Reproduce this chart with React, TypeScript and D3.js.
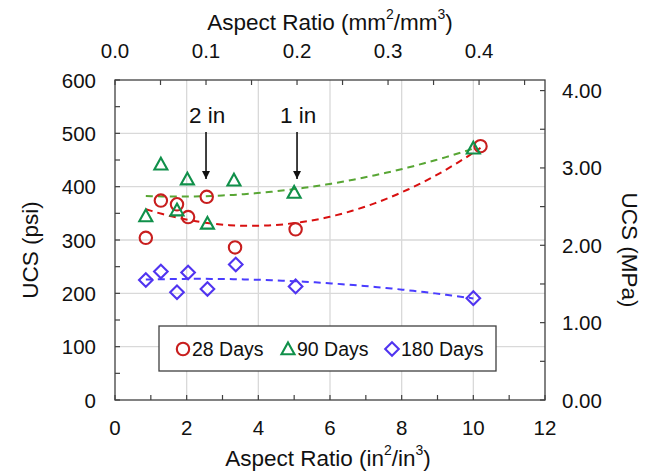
import React from "react";
import * as d3 from "d3";

const days28X = [0.86, 1.28, 1.73, 2.04, 2.56, 3.35, 5.04, 10.2];
const days28Y = [304, 374, 367, 343, 381, 286, 320, 476];
const days90X = [0.86, 1.28, 1.73, 2.02, 2.58, 3.32, 5.0, 10.0];
const days90Y = [345, 442, 356, 414, 331, 412, 389, 472];
const days180X = [0.86, 1.28, 1.73, 2.04, 2.58, 3.37, 5.04, 10.0];
const days180Y = [225, 241, 202, 239, 208, 254, 213, 191];

const xTicksBottom = [0, 2, 4, 6, 8, 10, 12];
const yTicksLeft = [0, 100, 200, 300, 400, 500, 600];
const yTicksRight = [0, 1, 2, 3, 4];
const xTicksTop = [0, 0.1, 0.2, 0.3, 0.4];
const annotations = [
  { label: "2 in", x: 2.54 },
  { label: "1 in", x: 5.08 },
];
const legendLabels = ["28 Days", "90 Days", "180 Days"];

const W = 645, H = 473;
const L = 115, R = 545, T = 80, B = 400;
const FONT = "'Liberation Sans', Arial, sans-serif";
const PSI_PER_MPA = 145.038;
const MM_PER_IN = 25.4;
const TICK_FS = 20.5;
const TITLE_FS = 22.5;

function quadFit(xs: number[], ys: number[]) {
  let s0 = xs.length, s1 = 0, s2 = 0, s3 = 0, s4 = 0, t0 = 0, t1 = 0, t2 = 0;
  xs.forEach((x, i) => {
    const y = ys[i];
    s1 += x; s2 += x * x; s3 += x ** 3; s4 += x ** 4;
    t0 += y; t1 += x * y; t2 += x * x * y;
  });
  const M = [
    [s0, s1, s2, t0],
    [s1, s2, s3, t1],
    [s2, s3, s4, t2],
  ];
  for (let i = 0; i < 3; i++) {
    for (let j = i + 1; j < 3; j++) {
      const f = M[j][i] / M[i][i];
      for (let k = i; k < 4; k++) M[j][k] -= f * M[i][k];
    }
  }
  const c = M[2][3] / M[2][2];
  const b = (M[1][3] - M[1][2] * c) / M[1][1];
  const a = (M[0][3] - M[0][1] * b - M[0][2] * c) / M[0][0];
  return (x: number) => a + b * x + c * x * x;
}

export default function App() {
  const x = d3.scaleLinear().domain([0, 12]).range([L, R]);
  const y = d3.scaleLinear().domain([0, 600]).range([B, T]);
  const yR = d3.scaleLinear().domain([0, 600 / PSI_PER_MPA]).range([B, T]);
  const xTop = d3.scaleLinear().domain([0, 12 / MM_PER_IN]).range([L, R]);

  const series = [
    { xs: days28X, ys: days28Y, color: "#C81E1E", line: "#D81010", shape: "circle" },
    { xs: days90X, ys: days90Y, color: "#10904A", line: "#58A634", shape: "triangle" },
    { xs: days180X, ys: days180Y, color: "#5034F0", line: "#4A3CFF", shape: "diamond" },
  ];

  const marker = (shape: string, cx: number, cy: number, color: string, key: any) => {
    if (shape === "circle")
      return <circle key={key} cx={cx} cy={cy} r={6.2} fill="none" stroke={color} strokeWidth={2.1} />;
    if (shape === "triangle") {
      const s = 6.5;
      return (
        <path key={key}
          d={`M${cx},${cy - s} L${cx + s},${cy + s * 0.8} L${cx - s},${cy + s * 0.8} Z`}
          fill="none" stroke={color} strokeWidth={2.1} strokeLinejoin="miter" />
      );
    }
    const s = 6.8;
    return (
      <path key={key}
        d={`M${cx},${cy - s} L${cx + s},${cy} L${cx},${cy + s} L${cx - s},${cy} Z`}
        fill="none" stroke={color} strokeWidth={2.1} />
    );
  };

  const lineGen = d3.line<[number, number]>().x(d => x(d[0])).y(d => y(d[1]));

  const minorX = d3.range(0, 13, 1);
  const minorY = d3.range(0, 601, 50);
  const minorYR = d3.range(0, 4.01, 0.5);
  const minorXTop = d3.range(0, 0.46, 0.05).filter(v => xTop(v) <= R + 0.5);

  return (
    <svg width={W} height={H} style={{ position: "fixed", left: 0, top: 0, background: "#fff" }} fontFamily={FONT}>
      <rect width={W} height={H} fill="#fff" />
      {xTicksBottom.slice(1, -1).map(v => (
        <line key={"gx" + v} x1={x(v)} x2={x(v)} y1={T} y2={B} stroke="#D9D9D9" strokeWidth={1.3} />
      ))}
      {yTicksLeft.slice(1, -1).map(v => (
        <line key={"gy" + v} x1={L} x2={R} y1={y(v)} y2={y(v)} stroke="#D9D9D9" strokeWidth={1.3} />
      ))}

      {series.map((s, i) => {
        const f = quadFit(s.xs, s.ys);
        const x0 = d3.min(s.xs)!, x1 = d3.max(s.xs)!;
        const pts: [number, number][] = d3.range(0, 61).map(k => {
          const xv = x0 + ((x1 - x0) * k) / 60;
          return [xv, f(xv)];
        });
        return <path key={"t" + i} d={lineGen(pts)!} fill="none" stroke={s.line} strokeWidth={2} strokeDasharray="7,5" />;
      })}

      <rect x={L} y={T} width={R - L} height={B - T} fill="none" stroke="#404040" strokeWidth={1.3} />

      {minorX.map(v => (
        <line key={"bt" + v} x1={x(v)} x2={x(v)} y1={B} y2={B - 5} stroke="#404040" strokeWidth={1.2} />
      ))}
      {minorXTop.map((v, i) => (
        <line key={"tt" + i} x1={xTop(v)} x2={xTop(v)} y1={T} y2={T + 5} stroke="#404040" strokeWidth={1.2} />
      ))}
      {minorY.map(v => (
        <line key={"lt" + v} x1={L} x2={L + 5} y1={y(v)} y2={y(v)} stroke="#404040" strokeWidth={1.2} />
      ))}
      {minorYR.map((v, i) => (
        <line key={"rt" + i} x1={R} x2={R - 5} y1={yR(v)} y2={yR(v)} stroke="#404040" strokeWidth={1.2} />
      ))}

      {xTicksBottom.map(v => (
        <text key={"bl" + v} x={x(v)} y={427} fontSize={TICK_FS} textAnchor="middle" dominantBaseline="central" fill="#111">{v}</text>
      ))}
      {xTicksTop.map(v => (
        <text key={"tl" + v} x={xTop(v)} y={50} fontSize={TICK_FS} textAnchor="middle" dominantBaseline="central" fill="#111">{v.toFixed(1)}</text>
      ))}
      {yTicksLeft.map(v => (
        <text key={"ll" + v} x={96} y={y(v)} fontSize={TICK_FS} textAnchor="end" dominantBaseline="central" fill="#111">{v}</text>
      ))}
      {yTicksRight.map(v => (
        <text key={"rl" + v} x={562} y={yR(v)} fontSize={TICK_FS} textAnchor="start" dominantBaseline="central" fill="#111">{v.toFixed(2)}</text>
      ))}

      <text x={328} y={458} fontSize={TITLE_FS} textAnchor="middle" dominantBaseline="central" fill="#111">
        Aspect Ratio (in<tspan fontSize={14} dy={-8}>2</tspan><tspan dy={8}>/in</tspan><tspan fontSize={14} dy={-8}>3</tspan><tspan dy={8}>)</tspan>
      </text>
      <text x={330} y={22} fontSize={TITLE_FS} textAnchor="middle" dominantBaseline="central" fill="#111">
        Aspect Ratio (mm<tspan fontSize={14} dy={-8}>2</tspan><tspan dy={8}>/mm</tspan><tspan fontSize={14} dy={-8}>3</tspan><tspan dy={8}>)</tspan>
      </text>
      <text transform={`translate(30,${(T + B) / 2 + 10}) rotate(-90)`} fontSize={TITLE_FS} textAnchor="middle" dominantBaseline="central" fill="#111">UCS (psi)</text>
      <text transform={`translate(629,${(T + B) / 2 + 10}) rotate(90)`} fontSize={TITLE_FS} textAnchor="middle" dominantBaseline="central" fill="#111">UCS (MPa)</text>

      <defs>
        <marker id="arr" viewBox="0 0 10 10" refX="10" refY="5" markerWidth="5" markerHeight="5" orient="auto">
          <path d="M0,0 L10,5 L0,10 Z" fill="#111" />
        </marker>
      </defs>
      {annotations.map(a => (
        <g key={a.label}>
          <text x={x(a.x) + 1} y={115} fontSize={TITLE_FS} textAnchor="middle" dominantBaseline="central" fill="#111">{a.label}</text>
          <line x1={x(a.x)} x2={x(a.x)} y1={132} y2={179} stroke="#111" strokeWidth={1.6} markerEnd="url(#arr)" />
        </g>
      ))}

      {series.map((s, i) => s.xs.map((xv, j) => marker(s.shape, x(xv), y(s.ys[j]), s.color, `m${i}-${j}`)))}

      <rect x={159} y={326} width={337} height={45} fill="#fff" stroke="#404040" strokeWidth={1.3} />
      {legendLabels.map((lab, i) => {
        const mx = [183, 288, 392][i];
        return (
          <g key={lab}>
            {marker(series[i].shape, mx, 349, series[i].color, "lg" + i)}
            <text x={mx + 9} y={349} fontSize={19.5} dominantBaseline="central" fill="#111">{lab}</text>
          </g>
        );
      })}
    </svg>
  );
}
